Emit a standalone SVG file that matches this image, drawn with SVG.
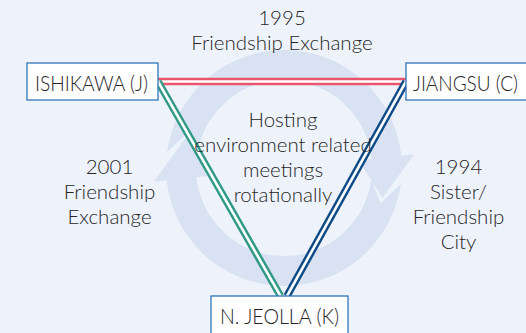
<svg xmlns="http://www.w3.org/2000/svg" width="526" height="333" viewBox="0 0 526 333">
<style>
.bg{fill:#eef3fb}
.ring{fill:#d9e2f3}
.box{fill:#ffffff;stroke:#2e75b6;stroke-width:1.3}
.t{font-family:Lato,"Liberation Sans",sans-serif;font-weight:300;font-size:20.5px;fill:#262626;text-anchor:middle}
.n{font-size:22px}
.outer{fill:none;stroke-width:7.5}
.inner{fill:none;stroke:#ffffff;stroke-width:2.6}
</style>
<rect class="bg" x="0" y="0" width="526" height="333"/>
<g id="cycle-arrows">
<path class="ring" d="M380.79 203.23 L400.99 183.40 A118 118 0 0 1 166.65 180.33 L153.72 181.69 L185.50 137.89 L209.41 175.84 L196.48 177.20 A88 88 0 0 0 371.25 179.49 Z"/>
<path class="ring" d="M187.21 132.77 L167.01 152.60 A118 118 0 0 1 401.35 155.67 L414.28 154.31 L382.50 198.11 L358.59 160.16 L371.52 158.80 A88 88 0 0 0 196.75 156.51 Z"/>
</g>
<g id="connectors">
<path class="outer" stroke="#e9566d" d="M158 81.5 H406"/>
<path class="inner" d="M158 81.5 H406"/>
<path class="outer" stroke="#2f9985" d="M158 81.5 L280.5 296"/>
<path class="inner" d="M158 81.5 L280.5 296"/>
<path class="outer" stroke="#0d4a86" d="M406 81.5 L287 296"/>
<path class="inner" d="M406 81.5 L287 296"/>
</g>
<g id="labels">
<text class="t" x="282" y="25">1995</text>
<text class="t" x="282" y="50">Friendship Exchange</text>
<text class="t" x="109.5" y="174">2001</text>
<text class="t" x="109.5" y="199">Friendship</text>
<text class="t" x="109.5" y="224">Exchange</text>
<text class="t" x="458.5" y="174">1994</text>
<text class="t" x="458.5" y="199">Sister/</text>
<text class="t" x="458.5" y="224">Friendship</text>
<text class="t" x="458.5" y="249">City</text>
<text class="t" x="283" y="127">Hosting</text>
<text class="t" x="283" y="152">environment related</text>
<text class="t" x="283" y="177">meetings</text>
<text class="t" x="283" y="202">rotationally</text>
</g>
<g id="node-ishikawa">
<rect class="box" x="27" y="63" width="131" height="37"/>
<text class="t n" x="91.5" y="91" textLength="113" lengthAdjust="spacingAndGlyphs">ISHIKAWA (J)</text>
</g>
<g id="node-jiangsu">
<rect class="box" x="406" y="63" width="125" height="37"/>
<text class="t n" x="465.5" y="91" textLength="105" lengthAdjust="spacingAndGlyphs">JIANGSU (C)</text>
</g>
<g id="node-jeolla">
<rect class="box" x="211" y="296" width="137" height="40"/>
<text class="t n" x="279.5" y="324" textLength="119" lengthAdjust="spacingAndGlyphs">N. JEOLLA (K)</text>
</g>
</svg>
